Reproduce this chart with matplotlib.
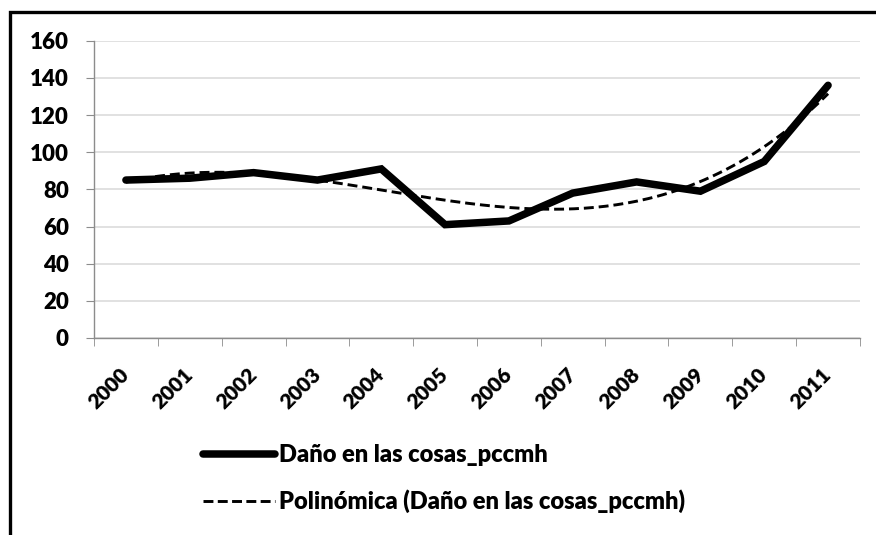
import numpy as np
import matplotlib.pyplot as plt
from matplotlib.patches import Rectangle
from matplotlib.lines import Line2D
from matplotlib.transforms import ScaledTranslation

# ======================================================
# Data
# ======================================================
years = ["2000", "2001", "2002", "2003", "2004", "2005",
         "2006", "2007", "2008", "2009", "2010", "2011"]
danos = [85, 86, 89, 85, 91, 61, 63, 78, 84, 79, 95, 136]
poly_order = 3

serie_label = "Daño en las cosas_pccmh"
trend_label = "Polinómica (Daño en las cosas_pccmh)"

plt.rcParams['font.family'] = ['Lato', 'DejaVu Sans']
WEIGHT = "heavy"

W, H = 876, 535
fig = plt.figure(figsize=(W / 100, H / 100), dpi=100)
ax = fig.add_axes([94 / W, 1 - 338 / H, (860 - 94) / W, (338 - 40.7) / H])

x = np.arange(len(years))
ax.plot(x, danos, color="black", lw=5.4, solid_joinstyle="miter",
        solid_capstyle="round", zorder=3)

# polynomial trendline (Excel style, fitted on 1..n)
coef = np.polyfit(x + 1, danos, poly_order)
xs = np.linspace(0, len(years) - 1, 200)
ax.plot(xs, np.polyval(coef, xs + 1), color="black", lw=2.1,
        dashes=(3.4, 1.7), zorder=4)

# axes styling
ax.set_xlim(-0.5, len(years) - 0.5)
ax.set_ylim(0, 160)
ax.set_yticks(range(0, 161, 20))
ax.yaxis.grid(True, color="#d9d9d9", lw=1.1)
ax.set_axisbelow(True)
for s in ["top", "right"]:
    ax.spines[s].set_visible(False)
for s in ["left", "bottom"]:
    ax.spines[s].set_color("#8c8c8c")
    ax.spines[s].set_linewidth(1.0)

ax.set_xticks(x)
ax.set_xticklabels(years, rotation=45, ha="right", va="center",
                   rotation_mode="anchor", fontsize=15, fontweight=WEIGHT)
shift = ScaledTranslation(-3 / 100, 0, fig.dpi_scale_trans)
for lab in ax.get_xticklabels():
    lab.set_transform(lab.get_transform() + shift)
ax.set_xticks(np.arange(-0.5, len(years)), minor=True)
ax.tick_params(axis="x", which="major", length=0, pad=24)
ax.tick_params(axis="x", which="minor", length=6, color="#8c8c8c")
ax.tick_params(axis="y", length=6, color="#8c8c8c", labelsize=16, pad=12)
for lab in ax.get_yticklabels():
    lab.set_fontweight(WEIGHT)

# legend below the plot
handles = [Line2D([], [], color="black", lw=5.4, solid_capstyle="round"),
           Line2D([], [], color="black", lw=2.1, dashes=(3.4, 1.5))]
fig.legend(handles, [serie_label, trend_label], loc="center left",
           bbox_to_anchor=(203 / W, 1 - 478.5 / H), frameon=False,
           prop={"size": 17, "weight": WEIGHT}, handlelength=3.05,
           handletextpad=0.15, labelspacing=1.0, borderpad=0,
           borderaxespad=0)

# outer chart border (cropped at right and bottom)
fig.patches.append(Rectangle((10 / W, -0.05), 1.0, 1 - 12 / H + 0.05,
                             transform=fig.transFigure, fill=False,
                             edgecolor="black", lw=2.4))

fig.savefig("out.png", dpi=100)
